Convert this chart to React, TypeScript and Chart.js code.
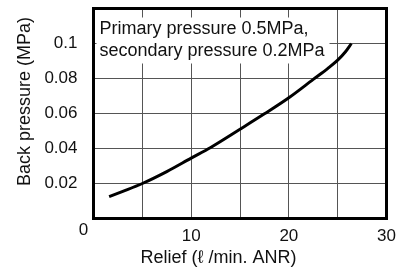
import React, { useEffect, useRef } from "react";
import { Chart, registerables } from "chart.js";

Chart.register(...registerables);

const reliefFlow = [1.6, 3, 5, 7.5, 10, 12, 15, 17.5, 20, 22.5, 24, 25, 25.8, 26.4];
const backPressure = [0.0125, 0.0155, 0.02, 0.0268, 0.0345, 0.0406, 0.051, 0.0598, 0.069, 0.0795, 0.0858, 0.0905, 0.0953, 0.1];
const xTickLabels = [10, 20, 30];
const yTickLabels = [0.02, 0.04, 0.06, 0.08, 0.1];
const noteLines = ["Primary pressure 0.5MPa,", "secondary pressure 0.2MPa"];
const xTitle = "Relief (\u2113 /min. ANR)";
const yTitle = "Back pressure (MPa)";
const originLabel = "0";

const FONT = "'Liberation Sans', Arial, sans-serif";

const decorPlugin = {
  id: "decor",
  beforeDatasetsDraw(chart: any) {
    const { ctx, chartArea } = chart;
    ctx.save();
    ctx.fillStyle = "#fff";
    ctx.fillRect(chartArea.left + 3, chartArea.top + 9, 233, 46);
    ctx.fillStyle = "#111";
    ctx.font = `18px ${FONT}`;
    ctx.textAlign = "left";
    ctx.textBaseline = "alphabetic";
    ctx.fillText(noteLines[0], chartArea.left + 6, chartArea.top + 25);
    ctx.fillText(noteLines[1], chartArea.left + 6, chartArea.top + 47);
    ctx.restore();
  },
  afterDraw(chart: any) {
    const { ctx, chartArea, scales } = chart;
    ctx.save();
    ctx.strokeStyle = "#000";
    ctx.lineWidth = 3;
    ctx.strokeRect(chartArea.left, chartArea.top, chartArea.right - chartArea.left, chartArea.bottom - chartArea.top);
    ctx.fillStyle = "#111";
    ctx.font = `17px ${FONT}`;
    ctx.textAlign = "center";
    ctx.textBaseline = "middle";
    const x0 = scales.x.getPixelForValue(0);
    ctx.fillText(originLabel, x0 - 10, chartArea.bottom + 12);
    ctx.font = `18px ${FONT}`;
    ctx.fillText(xTitle, x0 + 125, chartArea.bottom + 40);
    ctx.translate(25, chartArea.top + 93);
    ctx.rotate(-Math.PI / 2);
    ctx.fillText(yTitle, 0, 0);
    ctx.restore();
  },
};

const zeroPad = (s: any) => {
  s.paddingTop = 0;
  s.paddingBottom = 0;
  s.paddingLeft = 0;
  s.paddingRight = 0;
};

export default function App() {
  const ref = useRef<HTMLCanvasElement>(null);
  useEffect(() => {
    if (!ref.current) return;
    const chart = new Chart(ref.current, {
      type: "line",
      data: {
        datasets: [
          {
            data: reliefFlow.map((x, i) => ({ x, y: backPressure[i] })),
            borderColor: "#000",
            borderWidth: 3,
            pointRadius: 0,
            cubicInterpolationMode: "monotone",
            fill: false,
          },
        ],
      },
      options: {
        responsive: false,
        animation: false,
        layout: { padding: { top: 8.5, right: 18.5, left: 0, bottom: 0 } },
        plugins: { legend: { display: false }, tooltip: { enabled: false } },
        scales: {
          x: {
            type: "linear",
            min: 0,
            max: 30,
            afterFit: (s: any) => {
              s.height = 52.5;
              zeroPad(s);
            },
            border: { display: false },
            grid: { color: "#555", lineWidth: 1, drawTicks: false },
            ticks: {
              stepSize: 5,
              padding: 8,
              color: "#111",
              font: { family: FONT, size: 17 },
              maxRotation: 0,
              autoSkip: false,
              callback: (v: any) => (xTickLabels.includes(Number(v)) ? String(v) : Number(v) === 0 ? null : ""),
            },
          },
          y: {
            min: 0,
            max: 0.12,
            afterFit: (s: any) => {
              s.width = 93.5;
              zeroPad(s);
            },
            border: { display: false },
            grid: { color: "#555", lineWidth: 1, drawTicks: false },
            ticks: {
              stepSize: 0.02,
              padding: 16,
              color: "#111",
              font: { family: FONT, size: 17 },
              callback: (v: any) => {
                const r = Math.round(Number(v) * 100) / 100;
                return yTickLabels.includes(r) ? String(r) : null;
              },
            },
          },
        },
      },
      plugins: [decorPlugin],
    } as any);
    return () => chart.destroy();
  }, []);
  return (
    <div style={{ position: "absolute", left: 0, top: 0, width: 405, height: 271, background: "#fff" }}>
      <canvas ref={ref} width={405} height={271} />
    </div>
  );
}
